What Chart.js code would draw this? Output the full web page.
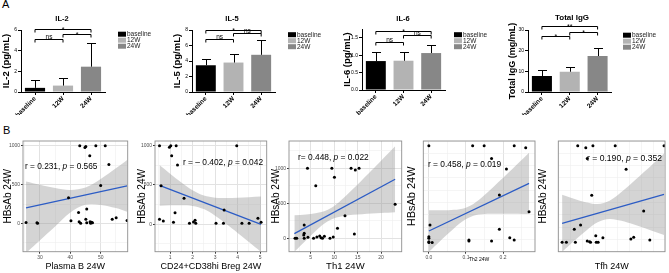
<!DOCTYPE html>
<html>
<head>
<meta charset="utf-8">
<title>Cytokines and HBsAb correlations</title>
<script src="https://cdn.jsdelivr.net/npm/chart.js@4.4.1/dist/chart.umd.min.js"></script>
<style>
  html, body { margin: 0; padding: 0; background: #fff; }
  #fig { position: relative; width: 669px; height: 273px; overflow: hidden; background: #fff; }
  #fig canvas { position: absolute; }
  .panel { position: absolute; font-family: "Liberation Sans", Arial, sans-serif; font-size: 11px; color: #000; line-height: 1; }
</style>
</head>
<body>
<div id="fig">
  <div class="panel" style="left:2px;top:-1px;">A</div>
  <div class="panel" style="left:3px;top:125px;">B</div>
  <canvas id="il2" width="165" height="115" style="left:0px;top:0px"></canvas>
  <canvas id="il5" width="165" height="115" style="left:165px;top:0px"></canvas>
  <canvas id="il6" width="165" height="115" style="left:330px;top:0px"></canvas>
  <canvas id="igg" width="174" height="115" style="left:495px;top:0px"></canvas>
  <canvas id="s1" width="135" height="138" style="left:0px;top:135px"></canvas>
  <canvas id="s2" width="138" height="138" style="left:134px;top:135px"></canvas>
  <canvas id="s3" width="138" height="138" style="left:268px;top:135px"></canvas>
  <canvas id="s4" width="137" height="138" style="left:402px;top:135px"></canvas>
  <canvas id="s5" width="134" height="138" style="left:535px;top:135px"></canvas>
</div>
<script>
// ---------------- Panel A data ----------------
const groups = ['baseline', '12W', '24W'];
const il2Mean = [0.40, 0.62, 2.45];
const il2Err  = [0.80, 0.78, 2.25];
const il5Mean = [3.45, 3.80, 4.80];
const il5Err  = [0.80, 1.15, 1.95];
const il6Mean = [0.83, 0.84, 1.06];
const il6Err  = [0.26, 0.25, 0.23];
const iggMean = [7.7, 9.8, 17.4];
const iggErr  = [2.9, 2.1, 4.0];
// significance labels: [baseline vs 12W, 12W vs 24W, baseline vs 24W]
const il2Sig = ['ns', '*', '*'];
const il5Sig = ['ns', 'ns', '*'];
const il6Sig = ['ns', 'ns', '*'];
const iggSig = ['*', '*', '**'];
const il2Ticks = [0, 2, 4, 6];
const il5Ticks = [0, 2, 4, 6, 8];
const il6Ticks = [0, 0.5, 1.0, 1.5];
const iggTicks = [0, 10, 20, 30];

// ---------------- Panel B data ----------------
const plasmaB = [43.1, 44.8, 45.1, 48.4, 51.5, 46.4, 52.7, 50.0, 39.4, 45.4, 42.7, 25.4, 29.0, 29.2, 40.2, 42.9, 43.4, 45.1, 45.4, 46.5, 46.7, 47.0, 47.3, 53.8, 55.1, 58.7];
const hbsPlasmaB = [1000, 978, 991, 1000, 1000, 871, 760, 489, 330, 185, 142, 13, 9, 4, 34, 21, 4, 56, 9, 21, 4, 17, 9, 56, 73, 39];
const plasmaBFitX = [25.4, 58.7];
const plasmaBFitY = [200, 485];
const plasmaBBandX  = [25.4, 30, 35, 40, 45, 50, 55, 58.7];
const plasmaBBandHi = [540, 498, 455, 432, 462, 572, 710, 818];
const plasmaBBandLo = [-380, -215, -40, 140, 240, 238, 198, 152];

const breg = [0.53, 0.97, 1.03, 1.27, 1.07, 1.33, 3.96, 0.60, 1.62, 1.22, 0.53, 0.70, 1.15, 1.86, 2.04, 2.11, 2.14, 3.04, 3.37, 3.40, 4.19, 4.51, 4.90, 5.04];
const hbsBreg = [1000, 979, 1000, 1000, 873, 754, 1000, 492, 330, 148, 64, 42, 25, 13, 30, 51, 13, 13, 13, 182, 13, 13, 76, 25];
const bregFitX = [0.53, 5.04];
const bregFitY = [495, 0];
const bregBandX  = [0.53, 1, 1.5, 2, 2.5, 3, 3.5, 4, 4.5, 5.04];
const bregBandHi = [753, 644, 533, 434, 365, 339, 336, 339, 345, 354];
const bregBandLo = [237, 242, 243, 234, 193, 109, 2, -111, -227, -354];

const th1 = [4.3, 9.5, 13.6, 14.5, 15.3, 10.05, 6.07, 23.0, 12.3, 10.7, 3.6, 3.6, 14.3, 1.65, 2.0, 3.6, 4.4, 5.6, 6.3, 6.9, 7.2, 7.5, 7.9, 9.1, 9.8, 3.5];
const hbsTh1 = [1000, 1000, 1000, 976, 1000, 871, 752, 486, 324, 143, 190, 71, 62, 0, 0, 0, 14, 0, 19, 33, 10, 0, 29, 0, 19, 48];
const th1FitX = [1.5, 23.0];
const th1FitY = [68, 843];
const th1BandX  = [1.5, 4, 6, 8, 10, 12, 14, 16, 18, 20, 23];
const th1BandHi = [329, 342, 358, 389, 461, 575, 703, 837, 972, 1109, 1314];
const th1BandLo = [-193, -26, 102, 215, 287, 319, 335, 345, 354, 361, 372];

const th2 = [0.0, 0.118, 0.149, 0.23, 0.261, 0.169, 0.209, 0.19, 0.27, 0.19, 0.003, 0.0, 0.0, 0.0, 0.0, 0.009, 0.108, 0.108, 0.169, 0.218, 0.23];
const hbsTh2 = [1000, 1000, 1000, 1000, 980, 870, 761, 495, 324, 143, 188, 68, 51, 17, 7, 7, 34, 24, 24, 58, 34];
const th2FitX = [0, 0.27];
const th2FitY = [126, 614];
const th2BandX  = [0, 0.03, 0.06, 0.09, 0.12, 0.15, 0.18, 0.21, 0.24, 0.27];
const th2BandHi = [339, 338, 341, 354, 403, 494, 599, 707, 817, 928];
const th2BandLo = [-87, 22, 127, 224, 283, 300, 303, 303, 303, 300];

const tfh = [5.8, 7.5, 9.0, 13.7, 24.0, 7.8, 16.0, 8.75, 19.7, 6.4, 5.07, 2.5, 3.4, 5.3, 7.8, 8.3, 8.5, 9.6, 9.7, 10.1, 11.1, 17.0, 17.6, 21.0];
const hbsTfh = [1000, 980, 1000, 1000, 1000, 870, 758, 491, 331, 188, 143, 10, 10, 10, 24, 17, 10, 78, 10, 10, 58, 44, 61, 34];
const tfhFitX = [2.5, 24.0];
const tfhFitY = [205, 502];
const tfhBandX  = [2.5, 5, 7.5, 10, 12.5, 15, 17.5, 20, 22.5, 24];
const tfhBandHi = [498, 457, 421, 403, 437, 526, 630, 740, 852, 920];
const tfhBandLo = [-88, 23, 127, 215, 249, 230, 194, 154, 110, 84];

// ---------------- rendering ----------------
const FONT = '"Liberation Sans", Arial, Helvetica, sans-serif';
Chart.defaults.font.family = FONT;
Chart.defaults.color = '#000';
const barColors = ['#000000', '#b3b3b3', '#878787'];

function barChart(id, c) {
  const deco = {
    id: 'deco_' + id,
    afterDatasetsDraw(chart) {
      const ctx = chart.ctx, xs = chart.scales.x, ys = chart.scales.y;
      const meta = chart.getDatasetMeta(0);
      ctx.save();
      ctx.strokeStyle = '#000'; ctx.lineWidth = 1;
      c.mean.forEach((m, i) => {
        const x = Math.round(meta.data[i].x) + 0.5;
        const y0 = ys.getPixelForValue(m), y1 = Math.round(ys.getPixelForValue(m + c.err[i])) + 0.5;
        ctx.beginPath();
        ctx.moveTo(x, y0); ctx.lineTo(x, y1);
        ctx.moveTo(x - 4.5, y1); ctx.lineTo(x + 4.5, y1);
        ctx.stroke();
      });
      const pairs = [[0, 1], [1, 2], [0, 2]];
      pairs.forEach((p, k) => {
        const xa = xs.getPixelForValue(p[0]), xb = xs.getPixelForValue(p[1]);
        const y = Math.round(ys.getPixelForValue(c.brk[k])) + 0.5;
        ctx.beginPath();
        ctx.moveTo(xa, y + 3); ctx.lineTo(xa, y); ctx.lineTo(xb, y); ctx.lineTo(xb, y + 3);
        ctx.stroke();
        ctx.fillStyle = '#000';
        ctx.textAlign = 'center'; ctx.textBaseline = 'alphabetic';
        const lab = c.sig[k];
        ctx.font = (lab === 'ns' ? '6.5px ' : '7px ') + FONT;
        ctx.fillText(lab, (xa + xb) / 2, lab === 'ns' ? y - 1 : y + 2);
      });
      ctx.font = 'bold ' + c.titleSize + 'px ' + FONT;
      ctx.textAlign = 'center'; ctx.textBaseline = 'middle';
      ctx.fillText(c.title, c.titleX, c.titleY);
      ctx.font = '6.5px ' + FONT;
      ctx.textAlign = 'left';
      groups.forEach((g, i) => {
        const yy = c.legY + i * 6;
        ctx.fillStyle = barColors[i];
        ctx.fillRect(c.legX, yy - 2.3, 8, 5);
        ctx.fillStyle = '#222';
        ctx.fillText(g, c.legX + 9, yy + 0.3);
      });
      ctx.restore();
    }
  };
  new Chart(document.getElementById(id), {
    type: 'bar',
    data: {
      labels: groups,
      datasets: [{ label: c.title, data: c.mean, backgroundColor: barColors, borderWidth: 0,
                   barPercentage: 0.72, categoryPercentage: 1 }]
    },
    options: {
      responsive: false, animation: false, devicePixelRatio: 1, events: [],
      layout: { padding: { top: c.top, right: c.right, left: 0, bottom: 0 } },
      plugins: { legend: { display: false }, tooltip: { enabled: false } },
      scales: {
        x: {
          afterFit: s => { s.height = c.xh; },
          border: { display: true, color: '#000', width: 1 },
          grid: { offset: false, drawOnChartArea: false, drawTicks: true, tickLength: 3, color: '#000', lineWidth: 1 },
          ticks: { minRotation: 45, maxRotation: 45, autoSkip: false, padding: 0,
                   font: { size: 6.5, weight: 'bold' }, color: '#000' }
        },
        y: {
          min: 0, max: c.max,
          afterFit: s => { s.width = c.yw; },
          afterBuildTicks: s => { s.ticks = c.ticks.map(v => ({ value: v })); },
          border: { display: true, color: '#000', width: 1 },
          grid: { drawOnChartArea: false, drawTicks: true, tickLength: 3, color: '#000', lineWidth: 1 },
          ticks: { padding: 1, font: { size: 5 }, color: '#000', callback: c.fmt },
          title: { display: true, text: c.yTitle, color: '#000',
                   font: { size: c.yTitleSize, weight: 'bold' }, padding: { top: c.yTitlePad, bottom: 0 } }
        }
      }
    },
    plugins: [deco]
  });
}

barChart('il2', { title: 'IL-2', mean: il2Mean, err: il2Err, sig: il2Sig, brk: [5.1, 5.6, 6.05], ticks: il2Ticks,
  max: 6, top: 30, right: 60, yw: 21, xh: 23, fmt: v => String(v),
  yTitle: 'IL-2 (pg/mL)', yTitleSize: 9.5, yTitlePad: 0.3, titleX: 62, titleY: 19, titleSize: 7.5, legX: 118, legY: 34 });
barChart('il5', { title: 'IL-5', mean: il5Mean, err: il5Err, sig: il5Sig, brk: [6.8, 7.6, 8.0], ticks: il5Ticks,
  max: 8, top: 30, right: 55, yw: 27, xh: 23, fmt: v => String(v),
  yTitle: 'IL-5 (pg/mL)', yTitleSize: 9.5, yTitlePad: 6.3, titleX: 67, titleY: 19, titleSize: 7.5, legX: 123, legY: 34.5 });
barChart('il6', { title: 'IL-6', mean: il6Mean, err: il6Err, sig: il6Sig, brk: [1.38, 1.59, 1.69], ticks: il6Ticks,
  max: 1.75, top: 29, right: 50, yw: 32, xh: 25, fmt: v => v.toFixed(1),
  yTitle: 'IL-6 (pg/mL)', yTitleSize: 9.5, yTitlePad: 11.3, titleX: 73, titleY: 19, titleSize: 7.5, legX: 124, legY: 34.5 });
barChart('igg', { title: 'Total IgG', mean: iggMean, err: iggErr, sig: iggSig, brk: [27.1, 29.2, 31.9], ticks: iggTicks,
  max: 30, top: 30, right: 57.5, yw: 33, xh: 23, fmt: v => String(v),
  yTitle: 'Total IgG (mg/mL)', yTitleSize: 9, yTitlePad: 12.6, titleX: 77, titleY: 18, titleSize: 8, legX: 128, legY: 35 });

function pts(xs, ys) { return xs.map((v, i) => ({ x: v, y: ys[i] })); }
function isMaj(v, m) { return Math.abs(v / m - Math.round(v / m)) < 1e-6; }

function scatter(id, d) {
  const deco = {
    id: 'sdeco_' + id,
    afterDatasetsDraw(chart) {
      const ctx = chart.ctx, a = chart.chartArea;
      ctx.save();
      ctx.fillStyle = '#000'; ctx.textBaseline = 'middle'; ctx.textAlign = 'left';
      let x = d.annX;
      [[d.rText, false], ['p', true], [d.pText, false]].forEach(([t, it]) => {
        ctx.font = (it ? 'italic ' : '') + d.annSize + 'px ' + FONT;
        ctx.fillText(t, x, d.annY);
        x += ctx.measureText(t).width;
      });
      ctx.strokeStyle = '#8f8f8f'; ctx.lineWidth = 0.9;
      ctx.strokeRect(a.left, a.top, a.right - a.left, a.bottom - a.top);
      ctx.restore();
    }
  };
  const gridFor = (maj) => ({
    color: ctx => (ctx.tick && isMaj(ctx.tick.value, maj)) ? '#e2e2e2' : '#eeeeee',
    lineWidth: ctx => (ctx.tick && isMaj(ctx.tick.value, maj)) ? 1 : 0.6,
    tickColor: ctx => (ctx.tick && isMaj(ctx.tick.value, maj)) ? '#333' : 'rgba(0,0,0,0)',
    tickLength: 2, drawTicks: true
  });
  new Chart(document.getElementById(id), {
    type: 'scatter',
    data: { datasets: [
      { label: 'points', data: pts(d.x, d.y), pointRadius: 1.5, pointBackgroundColor: '#000',
        pointBorderWidth: 0, showLine: false },
      { type: 'line', label: 'fit', data: pts(d.fitX, d.fitY), borderColor: '#2c5cc5', borderWidth: 1.3,
        pointRadius: 0, fill: false, tension: 0 },
      { type: 'line', label: 'ci upper', data: pts(d.bandX, d.bandHi), borderWidth: 0, borderColor: 'rgba(0,0,0,0)',
        pointRadius: 0, fill: '+1', backgroundColor: 'rgba(153,153,153,0.42)', tension: 0.35 },
      { type: 'line', label: 'ci lower', data: pts(d.bandX, d.bandLo), borderWidth: 0, borderColor: 'rgba(0,0,0,0)',
        pointRadius: 0, fill: false, tension: 0.35 }
    ]},
    options: {
      responsive: false, animation: false, devicePixelRatio: 1, events: [],
      layout: { padding: { top: 6, right: d.rp, left: 0, bottom: 0 } },
      plugins: { legend: { display: false }, tooltip: { enabled: false } },
      scales: {
        x: {
          type: 'linear', min: d.xMin, max: d.xMax,
          afterFit: s => { s.height = d.xh; },
          border: { display: false },
          grid: gridFor(d.xMajor),
          ticks: { stepSize: d.xStep, includeBounds: false, autoSkip: false, maxRotation: 0, padding: 1,
                   font: { size: 5 }, color: '#4d4d4d',
                   callback: v => isMaj(v, d.xMajor) ? d.xFmt(v) : '' },
          title: { display: true, text: d.xTitle, color: '#000', font: { size: d.xTitleSize },
                   padding: { top: 0, bottom: d.xTitlePad } }
        },
        y: {
          type: 'linear', min: d.yMin, max: d.yMax,
          afterFit: s => { s.width = d.yw; },
          border: { display: false },
          grid: gridFor(d.yMajor),
          ticks: { stepSize: d.yStep, includeBounds: false, autoSkip: false, padding: 1,
                   font: { size: 5 }, color: '#4d4d4d',
                   callback: v => isMaj(v, d.yMajor) ? String(Math.round(v)) : '' },
          title: { display: true, text: 'HBsAb 24W', color: '#000', font: { size: d.yTitleSize },
                   padding: { top: d.yTitlePad, bottom: 0 } }
        }
      }
    },
    plugins: [deco]
  });
}

scatter('s1', { x: plasmaB, y: hbsPlasmaB, fitX: plasmaBFitX, fitY: plasmaBFitY,
  bandX: plasmaBBandX, bandHi: plasmaBBandHi, bandLo: plasmaBBandLo,
  xMin: 24.4, xMax: 58.9, xStep: 5, xMajor: 10, xFmt: v => String(v),
  yMin: -363, yMax: 1061, yStep: 250, yMajor: 500,
  yw: 23, xh: 21.3, rp: 7.3, xTitle: 'Plasma B 24W', xTitleSize: 9, xTitlePad: 0.9,
  yTitleSize: 10, yTitlePad: 2,
  rText: 'r = 0.231, ', pText: ' = 0.565', annX: 25, annY: 32, annSize: 8.3 });

scatter('s2', { x: breg, y: hbsBreg, fitX: bregFitX, fitY: bregFitY,
  bandX: bregBandX, bandHi: bregBandHi, bandLo: bregBandLo,
  xMin: 0.33, xMax: 5.29, xStep: 0.5, xMajor: 1, xFmt: v => String(Math.round(v)),
  yMin: -349, yMax: 1060, yStep: 250, yMajor: 500,
  yw: 21, xh: 21.3, rp: 5.3, xTitle: 'CD24+CD38hi Breg 24W', xTitleSize: 9, xTitlePad: 0.9,
  yTitleSize: 10, yTitlePad: 2.7,
  rText: 'r = \u2013 0.402, ', pText: ' = 0.042', annX: 49, annY: 27.3, annSize: 8.4 });

scatter('s3', { x: th1, y: hbsTh1, fitX: th1FitX, fitY: th1FitY,
  bandX: th1BandX, bandHi: th1BandHi, bandLo: th1BandLo,
  xMin: 0.36, xMax: 24.4, xStep: 2.5, xMajor: 5, xFmt: v => String(Math.round(v)),
  yMin: -191, yMax: 1390, yStep: 250, yMajor: 500,
  yw: 21, xh: 21.3, rp: 4.3, xTitle: 'Th1 24W', xTitleSize: 9.5, xTitlePad: 0.6,
  yTitleSize: 10, yTitlePad: 2.7,
  rText: 'r= 0.448, ', pText: ' = 0.022', annX: 30, annY: 22.3, annSize: 8.4 });

scatter('s4', { x: th2, y: hbsTh2, fitX: th2FitX, fitY: th2FitY,
  bandX: th2BandX, bandHi: th2BandHi, bandLo: th2BandLo,
  xMin: -0.015, xMax: 0.286, xStep: 0.05, xMajor: 0.1, xFmt: v => v.toFixed(1),
  yMin: -86, yMax: 1048, yStep: 125, yMajor: 250,
  yw: 21.3, xh: 21.3, rp: 4, xTitle: 'Th2 24W', xTitleSize: 5, xTitlePad: 10,
  yTitleSize: 11, yTitlePad: 3.1,
  rText: 'r = 0.458, ', pText: ' = 0.019', annX: 26, annY: 29.3, annSize: 8.4 });

scatter('s5', { x: tfh, y: hbsTfh, fitX: tfhFitX, fitY: tfhFitY,
  bandX: tfhBandX, bandHi: tfhBandHi, bandLo: tfhBandLo,
  xMin: 1.7, xMax: 24.2, xStep: 2.5, xMajor: 5, xFmt: v => String(Math.round(v)),
  yMin: -86, yMax: 1048, yStep: 125, yMajor: 250,
  yw: 23.3, xh: 21.3, rp: 4, xTitle: 'Tfh 24W', xTitleSize: 9, xTitlePad: 1.5,
  yTitleSize: 10, yTitlePad: 2.3,
  rText: 'r = 0.190, ', pText: ' = 0.352', annX: 52, annY: 23.3, annSize: 8.6 });
</script>
</body>
</html>
